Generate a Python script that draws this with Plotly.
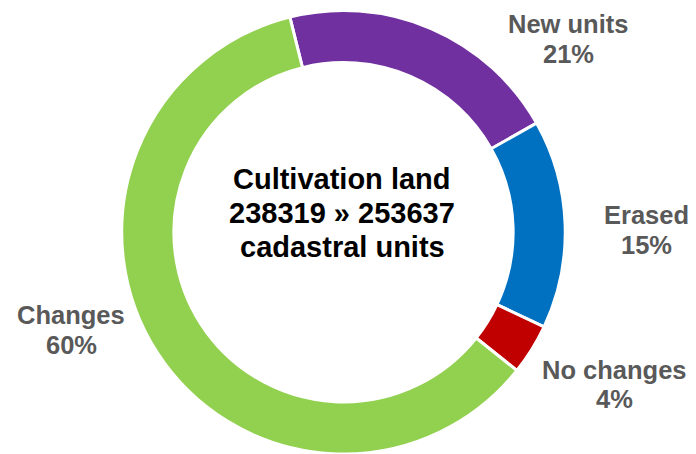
import plotly.graph_objects as go

categories = ["New units", "Erased", "No changes", "Changes"]
values = [20.7, 15.2, 3.7, 60.4]
label_pcts = ["21%", "15%", "4%", "60%"]
colors = ["#7030A0", "#0070C0", "#C00000", "#92D050"]
center_lines = ["Cultivation land", "238319 » 253637", "cadastral units"]

# page body has an 8px margin; figure is sized to fit the window
OFF = 8
W, H = 680, 446
cx, cy, R = 343.5 - OFF, 232.5 - OFF, 222

fig = go.Figure(go.Pie(
    labels=categories,
    values=values,
    hole=0.765,
    sort=False,
    direction="clockwise",
    rotation=-14,
    marker=dict(colors=colors, line=dict(color="white", width=3)),
    textinfo="none",
    hoverinfo="label+percent",
    showlegend=False,
    domain=dict(x=[(cx - R) / W, (cx + R) / W],
                y=[max(0, 1 - (cy + R) / H), 1 - (cy - R) / H]),
))


def line(text, px, baseline, size, color):
    py = baseline - 0.36 * size
    fig.add_annotation(
        x=(px - OFF) / W, y=1 - (py - OFF) / H, xref="paper", yref="paper",
        text=f"<b>{text}</b>", showarrow=False,
        font=dict(family="Liberation Sans, Arial", size=size, color=color),
        xanchor="center", yanchor="middle", align="center",
    )


# label positions: center x, baseline of first and second line (reference px)
label_pos = [(568, 33, 63), (646, 224, 254), (614, 379, 408), (71, 324, 354)]
for name, pct, (px, b1, b2) in zip(categories, label_pcts, label_pos):
    line(name, px, b1, 25.5, "#595959")
    line(pct, px, b2, 25.5, "#595959")

for t, b in zip(center_lines, [189, 223, 257]):
    line(t, 342, b, 29, "black")

fig.update_layout(
    width=W, height=H,
    margin=dict(l=0, r=0, t=0, b=0),
    paper_bgcolor="white", plot_bgcolor="white",
)

fig.write_html("out.html")
